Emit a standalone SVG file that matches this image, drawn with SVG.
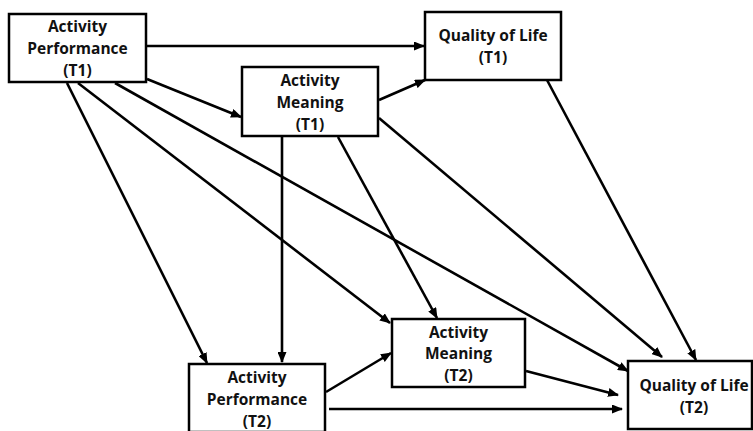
<svg xmlns="http://www.w3.org/2000/svg" width="753" height="431" viewBox="0 0 753 431">
<style>
.box{fill:#fff;stroke:#000;stroke-width:2.5}
.t{font-family:"Open Sans","Liberation Sans",sans-serif;font-weight:700;font-size:15.5px;text-anchor:middle;fill:#111}
.e{stroke:#000;stroke-width:2.6;fill:none;marker-end:url(#ah)}
</style>
<defs>
<marker id="ah" markerUnits="userSpaceOnUse" markerWidth="11" markerHeight="9" refX="10" refY="4.5" orient="auto">
<path d="M0,0 L11,4.5 L0,9 z" fill="#000"/>
</marker>
</defs>
<g id="connectors">
<line class="e" x1="147" y1="46" x2="424" y2="46"/>
<line class="e" x1="147" y1="79" x2="241" y2="117"/>
<line class="e" x1="379" y1="100" x2="425" y2="80"/>
<line class="e" x1="547" y1="80" x2="696" y2="360"/>
<line class="e" x1="379" y1="118" x2="662" y2="357"/>
<line class="e" x1="67" y1="83" x2="207" y2="363"/>
<line class="e" x1="78" y1="83" x2="390" y2="323"/>
<line class="e" x1="115" y1="83" x2="628" y2="371"/>
<line class="e" x1="282" y1="137" x2="282" y2="362"/>
<line class="e" x1="338" y1="137" x2="437" y2="318"/>
<line class="e" x1="326" y1="392" x2="391" y2="353"/>
<line class="e" x1="329" y1="409" x2="622" y2="409"/>
<line class="e" x1="526" y1="371" x2="618" y2="395"/>
</g>
<g id="ap1">
<rect class="box" x="9" y="14" width="137" height="68"/>
<text class="t" x="77.5" y="32">Activity</text>
<text class="t" x="77.5" y="54">Performance</text>
<text class="t" x="77.5" y="76">(T1)</text>
</g>
<g id="am1">
<rect class="box" x="242" y="67" width="136" height="69"/>
<text class="t" x="310" y="86">Activity</text>
<text class="t" x="310" y="108">Meaning</text>
<text class="t" x="310" y="130">(T1)</text>
</g>
<g id="qol1">
<rect class="box" x="425" y="12" width="136" height="68"/>
<text class="t" x="493" y="41">Quality of Life</text>
<text class="t" x="493" y="63">(T1)</text>
</g>
<g id="ap2">
<rect class="box" x="189" y="364" width="136" height="68"/>
<text class="t" x="257" y="383">Activity</text>
<text class="t" x="257" y="405">Performance</text>
<text class="t" x="257" y="427">(T2)</text>
</g>
<g id="am2">
<rect class="box" x="392" y="319" width="133" height="68"/>
<text class="t" x="458.5" y="338">Activity</text>
<text class="t" x="458.5" y="359">Meaning</text>
<text class="t" x="458.5" y="381">(T2)</text>
</g>
<g id="qol2">
<rect class="box" x="628" y="361" width="124" height="68"/>
<text class="t" x="694" y="391">Quality of Life</text>
<text class="t" x="694" y="413">(T2)</text>
</g>
</svg>
